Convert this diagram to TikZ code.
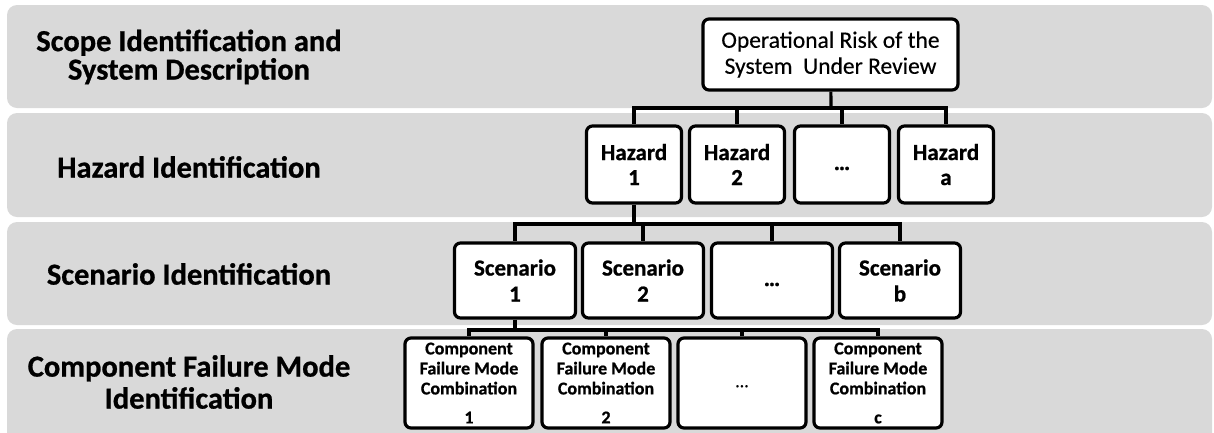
\documentclass[tikz,border=0pt]{standalone}
\usepackage{fontspec}
\setmainfont{Carlito}[UprightFeatures={FakeBold=0.3}, BoldFeatures={FakeBold=0.8}]
\definecolor{bandgray}{HTML}{D9D9D9}
\begin{document}
\begin{tikzpicture}[x=1pt,y=-1pt,
  band/.style={fill=bandgray, rounded corners=10pt},
  lbl/.style={font=\fontsize{30.5}{28.5}\selectfont\bfseries, align=center, inner sep=0pt},
  box/.style={draw=black, fill=white, line width=3.2pt, rounded corners=6pt, inner sep=0pt, align=center},
  rootbox/.style={box, minimum width=255pt, minimum height=71pt, font=\fontsize{23.5}{26}\selectfont},
  hzbox/.style={box, minimum width=95pt, minimum height=77pt, font=\fontsize{23}{25}\selectfont\bfseries},
  scbox/.style={box, minimum width=121pt, minimum height=75pt, font=\fontsize{23}{26}\selectfont\bfseries},
  cfbox/.style={box, minimum width=128pt, minimum height=90pt, font=\fontsize{18}{20}\selectfont\bfseries},
  link/.style={line width=3.2pt}]

\useasboundingbox (0,0) rectangle (1214,432);
\clip (0,0) rectangle (1214,432);

% level bands
\path[band] (7,5)   rectangle (1212,108);
\path[band] (7,113) rectangle (1212,217);
\path[band] (7,222) rectangle (1212,325);
\path[band] (7,329) rectangle (1212,450);

% level titles
\node[lbl] (t1) at (189,57)  {Scope Identification and\\System Description};
\node[lbl] (t2) at (189,167) {Hazard Identification};
\node[lbl] (t3) at (189,274) {Scenario Identification};
\node[lbl, font=\fontsize{30.5}{32}\selectfont\bfseries] (t4) at (189,382) {Component Failure Mode\\Identification};

% tree nodes
\node[rootbox] (root) at (830.5,54.5) {Operational Risk of the\\System\ \ Under Review};

\node[hzbox] (h1) at (634,164.5) {Hazard\\1};
\node[hzbox] (h2) at (737,164.5) {Hazard\\2};
\node[hzbox] (hd) at (842,164.5) {\vphantom{Hg}\textellipsis};
\node[hzbox] (ha) at (946,164.5) {Hazard\\a};

\node[scbox] (s1) at (515,280.5) {Scenario\\1};
\node[scbox] (s2) at (643,280.5) {Scenario\\2};
\node[scbox] (sd) at (772,280.5) {\vphantom{Hg}\textellipsis};
\node[scbox] (sb) at (900,280.5) {Scenario\\b};

\node[cfbox] (c1) at (469,383) {Component\\Failure Mode\\Combination\\[9pt]1};
\node[cfbox] (c2) at (606,383) {Component\\Failure Mode\\Combination\\[9pt]2};
\node[cfbox, font=\fontsize{18}{20}\selectfont] (cd) at (742,383) {\vphantom{Hg}\textellipsis};
\node[cfbox] (cc) at (878,383) {Component\\Failure Mode\\Combination\\[9pt]c};

% connectors
\coordinate (b1) at (831,108);
\coordinate (b2) at (634,224);
\coordinate (b3) at (515,330);

\draw[link] (root) -- (b1);
\foreach \n in {h1,h2,hd,ha} \draw[link] (b1) -| (\n);

\draw[link] (h1) -- (b2);
\foreach \n in {s1,s2,sd,sb} \draw[link] (b2) -| (\n);

\draw[link] (s1) -- (b3);
\foreach \n in {c1,c2,cd,cc} \draw[link] (b3) -| (\n);

\end{tikzpicture}
\end{document}
